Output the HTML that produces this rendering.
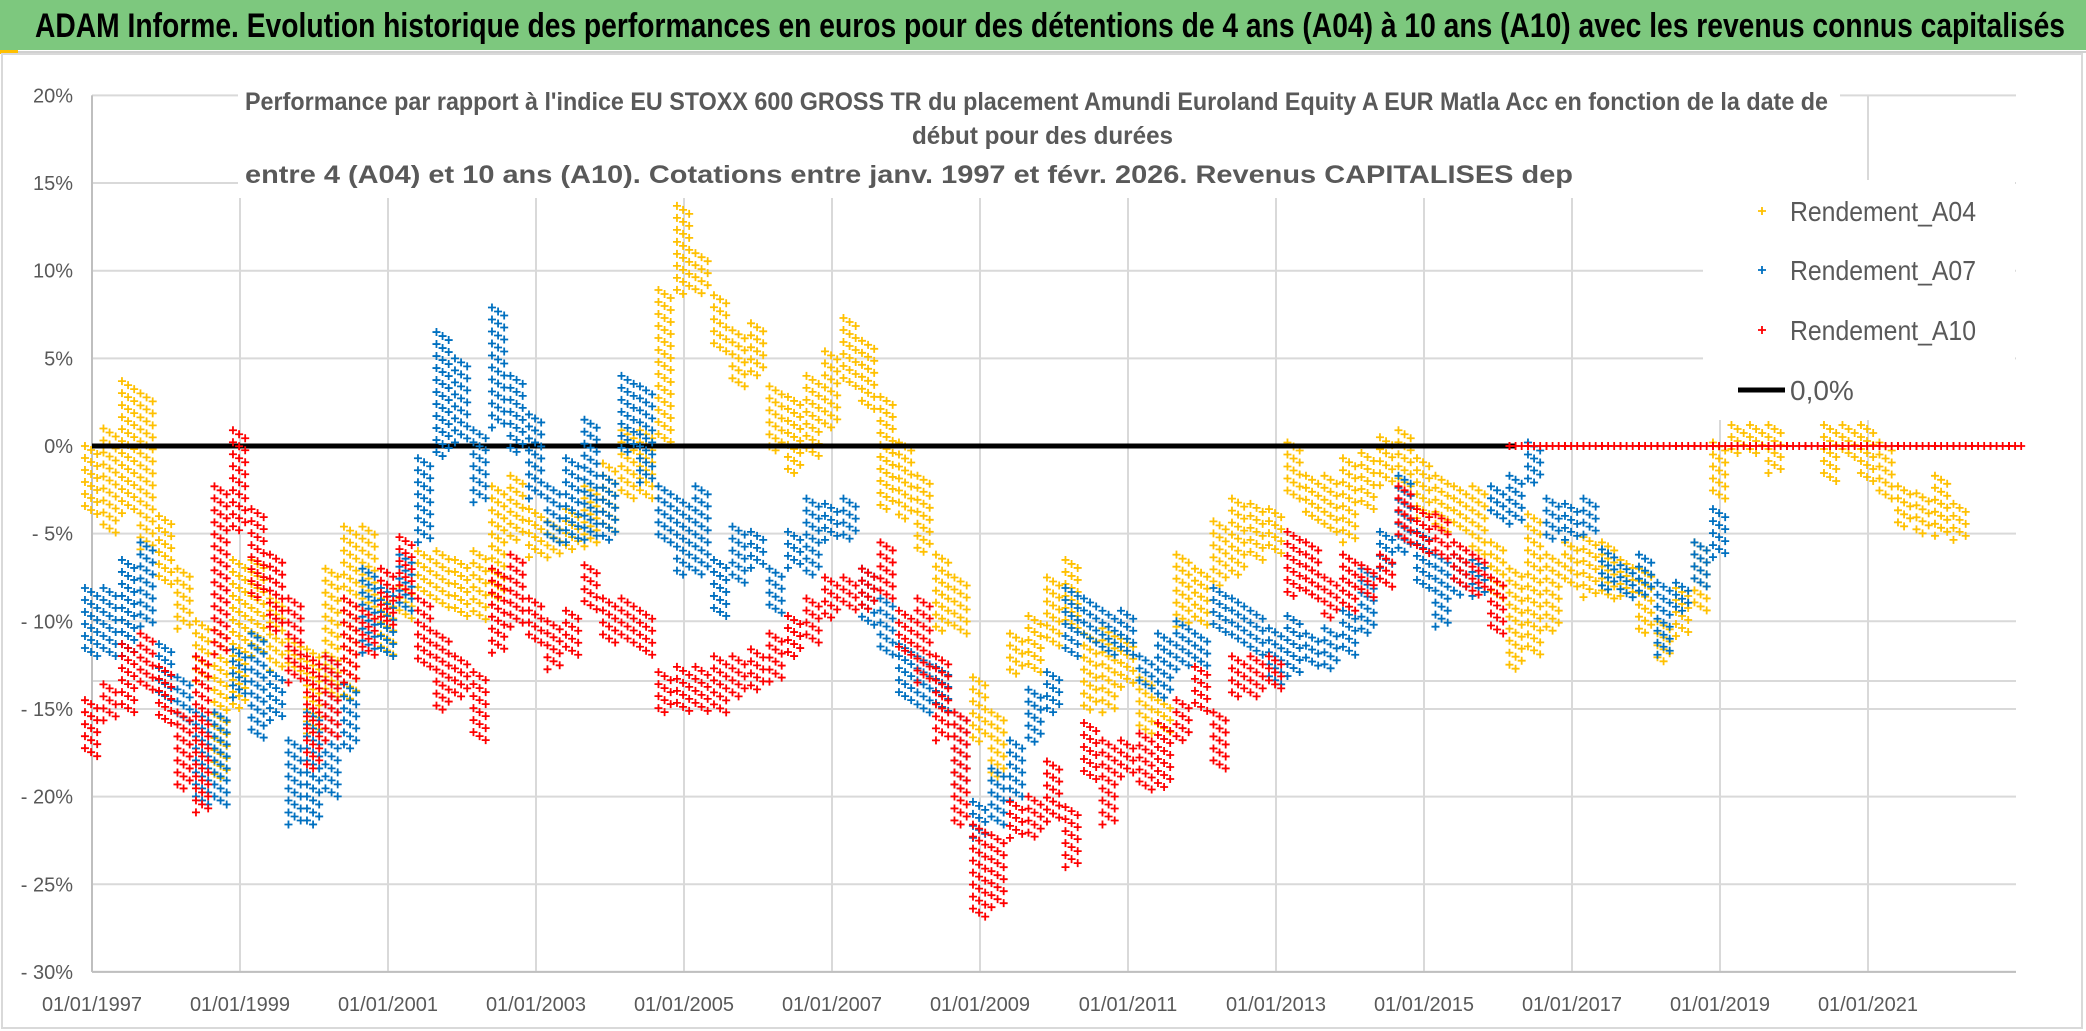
<!DOCTYPE html>
<html><head><meta charset="utf-8"><style>
html,body{margin:0;padding:0;background:#fff;}
svg{display:block;font-family:"Liberation Sans",sans-serif;}
</style></head><body>
<svg id="chart" width="2086" height="1031" viewBox="0 0 2086 1031">
<rect x="0" y="0" width="2086" height="1031" fill="#fff"/>
<rect x="0" y="0" width="2086" height="50" fill="#7dc87e"/>
<line x1="0" y1="52" x2="2086" y2="52" stroke="#d0d0d0" stroke-width="2"/>
<rect x="0" y="50" width="18" height="4" fill="#ffc000"/>
<rect x="2" y="54" width="2080" height="974" fill="none" stroke="#d9d9d9" stroke-width="2"/>
<text x="35" y="37" font-size="34" font-weight="bold" fill="#000" textLength="2030" lengthAdjust="spacingAndGlyphs">ADAM Informe. Evolution historique des performances en euros pour des détentions de 4 ans (A04) à 10 ans (A10) avec les revenus connus capitalisés</text>
<g id="grid"></g>
<g id="axes"></g>
<g id="titlebox">
<rect x="238" y="62" width="1602" height="136" fill="#fff"/>
<text x="245" y="110" font-size="25" font-weight="bold" fill="#595959" textLength="1583" lengthAdjust="spacingAndGlyphs">Performance par rapport à l'indice EU STOXX 600 GROSS TR  du placement Amundi Euroland Equity A EUR Matla Acc en fonction de la date de</text>
<text x="912" y="144" font-size="25" font-weight="bold" fill="#595959" textLength="261" lengthAdjust="spacingAndGlyphs">début pour des durées</text>
<text x="245" y="183" font-size="25" font-weight="bold" fill="#595959" textLength="1328" lengthAdjust="spacingAndGlyphs">entre 4 (A04) et 10 ans (A10). Cotations entre janv. 1997 et févr. 2026. Revenus CAPITALISES dep</text>
</g>
<g id="plot"></g>
<g id="legend"></g>
</svg>
<script>
// ---- data (quarterly, from start year, step 0.25) : [hi, lo] in % ----
const a04Start = 1997.0;
const a04Hi = [0,1,3.7,3,-4,-7,-10,-10.5,-6.5,-6.5,-8.7,-11,-11.6,-7,-4.6,-4.6,-8.7,-8,-6,-6,-6.5,-6,-2.3,-1.7,-3.6,-4.3,-3.6,-2.3,-1,0.9,0.9,8.9,13.7,11,8.6,6.6,7,3.4,2.8,4,5.4,7.3,6,2.8,0.2,-1.7,-6.2,-7.5,-13.2,-15.2,-10.7,-9.7,-7.5,-6.5,-10.7,-10.4,-11,-13.2,-14.5,-6.2,-7,-4.3,-3,-3.3,-3.6,0.2,-1.7,-1.7,-0.7,-0.4,0.5,0.9,-0.7,-1.7,-2.3,-2.3,-5.5,-7,-3.9,-6.2,-5.5,-5.2,-5.5,-6.5,-7,-10,-8.1,-5.5,0.2,1.2,1.2,1.2,null,null,1.2,1.2,1.2,0.2,-2.3,-2.7,-1.7,-3.3];
const a04Lo = [-4,-5,-4,-6,-8,-10.5,-13.5,-19,-15,-12,-13,-13,-16.5,-14.5,-14.5,-10,-12,-10,-8.7,-9.4,-9.7,-10,-8.7,-5.5,-6.5,-6.5,-5.9,-5.9,-4.9,-3,-3,0.2,8.6,8.6,5.4,3.4,4,-0.4,-1.7,-0.7,0.9,3.4,2.1,-3.6,-4.3,-6.2,-10.7,-10.7,-17,-19,-13.2,-12.9,-11.5,-10.4,-15.2,-15.2,-13.9,-16.4,-16.4,-10.4,-10.4,-8.1,-7.5,-6.5,-6.2,-3,-4.3,-4.9,-5.5,-3.6,-2.3,-2.3,-4.3,-4.9,-4.9,-6.2,-8.7,-12.9,-12,-10.7,-8.1,-8.7,-8.7,-8.7,-10.7,-12.3,-11,-9.4,-3,-0.4,-0.4,-1.7,null,null,-2,-0.7,-2,-3,-4.6,-5.2,-5.2,-5.5];
const a07Start = 1997.0;
const a07Hi = [-8.1,-8.1,-6.5,-5.5,-11.3,-13.2,-15.2,-15.2,-11.6,-10.7,-12.9,-16.8,-15.2,-12,-13.6,-7,-8.1,-6.2,-0.7,6.5,5,0.9,7.9,4,1.8,-2.3,-0.7,1.5,-1.7,4,3.4,-2.3,-3,-2.3,-6.5,-4.6,-4.9,-7,-4.9,-3,-3.3,-3,-7,-8.7,-11.3,-12,-12.6,-15.2,-20.3,-18.4,-16.8,-13.9,-12.9,-8.1,-8.7,-9.4,-9.4,-12,-10.7,-10,-10.7,-8.1,-8.7,-9.4,-10.4,-9.7,-10.7,-10.4,-9.4,-7,-4.9,-1.7,-4.9,-6.2,-6.2,-6.5,-2.3,-1.7,0.2,-3,-3.3,-3,-5.9,-6.8,-6.2,-7.8,-7.8,-5.5,-3.6];
const a07Lo = [-12,-12,-12,-10.4,-14.5,-15.8,-20.6,-20.6,-14.5,-16.8,-15.8,-21.6,-21.6,-20,-17.4,-12,-12,-9.4,-5.5,-0.7,0.2,-3.3,0.9,-0.4,-3,-5.5,-5.5,-5.5,-5.5,-0.4,-2.3,-5.5,-7.5,-7.5,-9.7,-7.8,-7.1,-9.7,-7.1,-7.5,-5.5,-5.5,-10.4,-12,-14.5,-15.2,-15.2,-19.6,-22.5,-21.6,-20.3,-17,-15.2,-12,-11.3,-12,-12,-13.9,-14.5,-12.9,-12.6,-10.7,-11.3,-12,-13.6,-13.2,-12.6,-12.9,-12,-10.7,-7.1,-6.2,-8.1,-10.4,-8.7,-8.7,-4.3,-4.6,-2.3,-5.5,-5.5,-5.2,-8.4,-8.7,-8.7,-12,-9.4,-8.1,-6.5];
const a10Start = 1997.0;
const a10Hi = [-14.5,-13.6,-11.3,-10.7,-12.6,-15.2,-12,-2.3,0.9,-3.6,-6.2,-8.7,-12,-12,-8.7,-9.4,-7,-5.2,-8.7,-10.7,-12,-12.9,-7,-6.2,-8.7,-10,-9.4,-6.8,-8.7,-8.7,-9.4,-12.9,-12.6,-12.6,-12,-12,-11.6,-10.7,-9.7,-8.7,-7.5,-7.5,-7,-5.5,-9.4,-8.7,-12,-15.2,-21.6,-22.2,-20.3,-20,-18,-20.6,-15.8,-16.8,-16.8,-16.4,-15.8,-14.5,-12.6,-15.2,-12,-12,-12,-4.9,-5.5,-7.5,-6.2,-6.8,-6.2,-2.3,-3.6,-3.9,-5.5,-6.2,-7.5,0,0,0,0,0,0,0,0,0,0,0,0,0,0,0,0,0,0,0,0,0,0,0,0,0,0,0,0];
const a10Lo = [-17.7,-15.8,-15.2,-13.9,-15.8,-19.6,-20.9,-12,-4.9,-8.7,-10.7,-13.6,-18.4,-16.8,-13.6,-12,-10.4,-8.7,-12.6,-15.2,-14.5,-17,-12,-10.4,-11.3,-12.9,-12,-9.4,-11.3,-11.3,-12,-15.2,-15.2,-15.2,-15.2,-14.5,-13.9,-13.6,-12,-11.3,-10,-9.4,-9.4,-8.7,-12,-13.6,-16.8,-21.6,-27,-26.4,-22.5,-22.5,-21.6,-24.1,-19,-21.6,-19,-19.6,-19.6,-17,-15.2,-18.4,-14.5,-14.5,-13.9,-8.7,-8.7,-10,-9.4,-8.7,-8.1,-5.5,-6.2,-6.5,-8.1,-8.7,-10.7,0,0,0,0,0,0,0,0,0,0,0,0,0,0,0,0,0,0,0,0,0,0,0,0,0,0,0,0];
const yTicks = [20,15,10,5,0,-5,-10,-15,-20,-25,-30];
const yTickLabels = ["20%","15%","10%","5%","0%","- 5%","- 10%","- 15%","- 20%","- 25%","- 30%"];
const xTickYears = [1997,1999,2001,2003,2005,2007,2009,2011,2013,2015,2017,2019,2021];
const xTickLabels = ["01/01/1997","01/01/1999","01/01/2001","01/01/2003","01/01/2005","01/01/2007","01/01/2009","01/01/2011","01/01/2013","01/01/2015","01/01/2017","01/01/2019","01/01/2021"];
const zeroLineEnd = 2016.25;
const legendLabels = ["Rendement_A04","Rendement_A07","Rendement_A10","0,0%"];

// ---- axes ----
const X0 = 92, PXY = 74, Y0 = 446, PXP = 17.53;
function X(year){ return X0 + (year - 1997) * PXY; }
function Y(v){ return Y0 - v * PXP; }
const plotL = X(1997), plotR = X(2023), plotT = Y(20), plotB = Y(-30);
const NS = "http://www.w3.org/2000/svg";
function mk(tag, attrs, parent){
  const e = document.createElementNS(NS, tag);
  for (const k in attrs) e.setAttribute(k, attrs[k]);
  parent.appendChild(e);
  return e;
}
const grid = document.getElementById('grid');
const axes = document.getElementById('axes');
const plot = document.getElementById('plot');
const legend = document.getElementById('legend');

yTicks.forEach((t, i) => {
  const ln = mk('line', {x1: plotL, x2: plotR, y1: Y(t), y2: Y(t), stroke: '#d9d9d9', 'stroke-width': 2}, grid);
  
  
  const tx = mk('text', {x: 73, y: Y(t) + 7, 'font-size': 20, fill: '#595959', 'text-anchor': 'end'}, axes);
  tx.textContent = yTickLabels[i];
  
  
});
const extra = mk('line', {x1: plotL, x2: plotR, y1: 681, y2: 681, stroke: '#d9d9d9', 'stroke-width': 2}, grid);


xTickYears.forEach((yr, i) => {
  const ln = mk('line', {x1: X(yr), x2: X(yr), y1: plotT, y2: plotB, stroke: '#d9d9d9', 'stroke-width': 2}, grid);
  
  
  const tx = mk('text', {x: X(yr), y: 1011, 'font-size': 20, fill: '#595959', 'text-anchor': 'middle'}, axes);
  tx.textContent = xTickLabels[i];
  
  
});
const la = mk('line', {x1: plotL, x2: plotL, y1: plotT, y2: plotB, stroke: '#bfbfbf', 'stroke-width': 2}, axes);


const lb = mk('line', {x1: plotL, x2: plotR, y1: plotB, y2: plotB, stroke: '#bfbfbf', 'stroke-width': 2}, axes);



// ---- markers ----
function plus(cx, cy, s, sw, color, parent){
  return mk('path', {d: `M${cx-s},${cy}H${cx+s}M${cx},${cy-s}V${cy+s}`, stroke: color, 'stroke-width': sw, fill: 'none'}, parent);
}
function drawSeries(name, start, hi, lo, color){
  const g = mk('g', {}, plot);
  
  
  const qw = PXY * 0.25;
  hi.forEach((h, i) => {
    const l = lo[i];
    if (h === null || l === null) return;
    const yr = start + i * 0.25;
    const cx = X(yr);
    const yTop = Y(Math.max(h, l)), yBot = Y(Math.min(h, l));
    const cell = mk('g', {}, g);
    
    
    const cols = [-qw * 0.38, -qw * 0.05, qw * 0.28];
    cols.forEach((dx, c) => {
      const off = c * 4;
      for (let y = yTop + off; y <= yBot + 0.01; y += 12) plus(cx + dx, y, 4, 1.8, color, cell);
      if (yBot - yTop < 6) plus(cx + dx, yTop, 4, 1.8, color, cell);
    });
  });
}
drawSeries('series-a04', a04Start, a04Hi, a04Lo, '#ffc000');
const zl = mk('line', {x1: X(1997), x2: X(zeroLineEnd), y1: Y(0), y2: Y(0), stroke: '#000', 'stroke-width': 5}, plot);


drawSeries('series-a07', a07Start, a07Hi, a07Lo, '#0070c0');
drawSeries('series-a10', a10Start, a10Hi, a10Lo, '#ff0000');

// ---- legend ----
mk('rect', {x: 1703, y: 180, width: 312, height: 240, fill: '#fff'}, legend);
const legColors = ['#ffc000', '#0070c0', '#ff0000'];
const legY = [211, 270, 330, 390];
legendLabels.forEach((lab, i) => {
  const ent = mk('g', {}, legend);
  
  
  if (i < 3) plus(1762, legY[i], 4, 1.8, legColors[i], ent);
  else mk('line', {x1: 1738, x2: 1785, y1: legY[i], y2: legY[i], stroke: '#000', 'stroke-width': 5}, ent);
  const tx = mk('text', {x: 1790, y: legY[i] + 10, 'font-size': 28, fill: '#595959'}, ent);
  if (i < 3) { tx.setAttribute('textLength', 186); tx.setAttribute('lengthAdjust', 'spacingAndGlyphs'); }
  tx.textContent = lab;
});
</script>
</body></html>
